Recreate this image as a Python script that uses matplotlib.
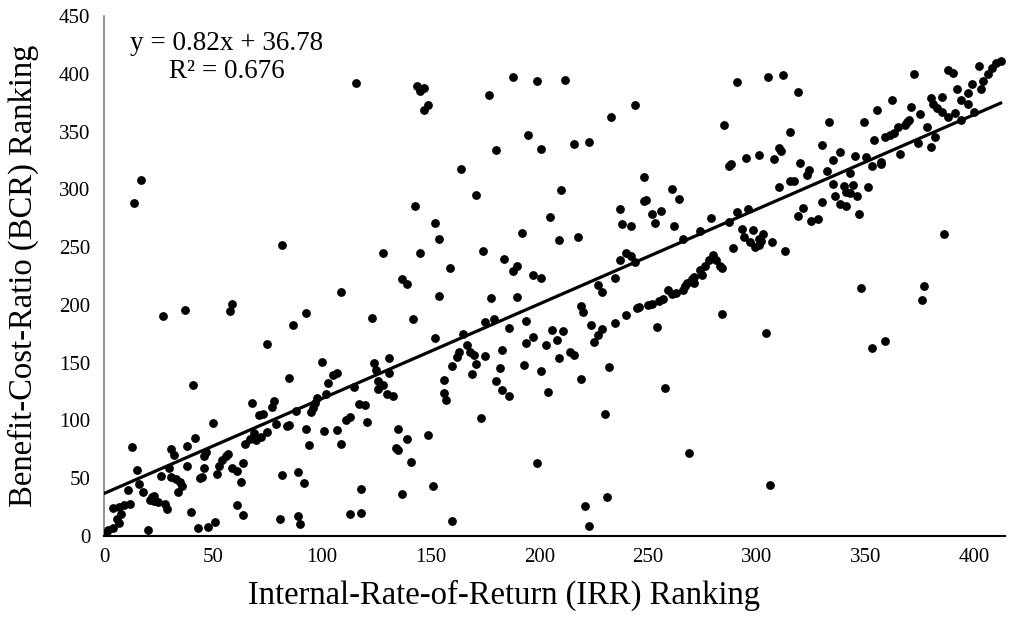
import matplotlib
matplotlib.use("Agg")
import matplotlib.pyplot as plt
import numpy as np

# IRR ranking (x) and BCR ranking (y) of each project
irr_rank = [
    100, 85, 41, 68, 78, 77, 71, 73, 98, 97, 96, 95, 88, 102, 50, 79, 84, 85, 93, 101,
    94, 69, 67, 65, 70, 72, 75, 42, 13, 31, 32, 38, 47, 46, 38, 30, 15, 26, 16, 11,
    18, 22, 23, 21, 23, 25, 28, 29, 31, 33, 35, 36, 34, 44, 45, 46, 52, 53, 54, 56,
    57, 59, 61, 63, 64, 61, 64, 40, 43, 48, 51, 20, 4, 7, 9, 12, 6, 7, 8, 2,
    4, 1, 81, 89, 90, 82, 89, 92,
    105, 107, 103, 115, 124, 125, 131, 131, 126, 128, 126, 130, 133, 117, 120, 111, 113, 121, 107, 109,
    135, 139, 134, 135, 141, 149, 118, 137, 151, 113, 118, 160, 156, 156, 157, 160, 162, 163, 168, 170,
    175, 171, 169, 173, 183, 182, 180, 183, 186, 193, 201, 204, 199,
    17, 14, 82, 27, 37, 59, 58, 87, 93, 75,
    171, 143, 152, 154, 128, 145, 174, 205, 192, 184, 190, 188, 197, 201, 159, 137, 139, 109, 154, 178,
    190, 123, 142, 175, 179, 186, 194, 197, 194, 203, 152, 165, 167,
    116, 144, 147, 145, 149, 147, 177, 188, 199, 195, 180, 201, 164, 212, 233, 244, 216, 223, 248, 261,
    285, 291, 305, 288, 287, 295, 301, 210,
    237, 249, 248, 264, 252, 256, 253, 238, 242, 262, 279, 291, 296, 287, 274, 266, 209, 218, 240, 242,
    237, 244, 235, 227, 229, 219, 220, 293, 294, 298, 303, 297, 299, 301, 301, 289, 280, 281, 283, 284,
    278, 276, 274, 275, 271, 270, 268, 271, 267, 266, 263, 259, 261, 257, 255, 252, 250, 246, 245, 240,
    235, 229, 227, 225, 224, 254, 284, 304, 206, 211, 208, 214, 216, 209,
    232, 219, 258, 230, 269, 231, 221, 223, 306,
    312, 319, 372, 388, 390, 402, 408, 410, 412, 406, 404, 403, 399, 392, 397, 394, 397, 385, 380, 381,
    383, 385, 388, 391, 394, 400, 375, 371, 362, 355, 349, 333, 315, 370, 354, 359, 361, 363, 365, 368,
    369, 378, 382, 380, 374, 366, 357, 357, 353, 350, 345, 338, 335, 330, 320, 324, 323, 332, 343, 310,
    311, 308, 315, 317, 310, 335, 340, 344, 351, 341, 343, 336, 346, 338, 341, 347, 330, 321, 319, 325,
    328, 302, 307, 313, 386, 348, 377, 376, 359, 353,
]
bcr_rank = [
    151, 137, 131, 115, 117, 112, 105, 106, 119, 115, 111, 107, 108, 123, 98, 97, 95, 96, 93, 91,
    79, 89, 84, 80, 83, 86, 90, 85, 77, 75, 70, 78, 73, 69, 61, 59, 57, 52, 45, 40,
    38, 34, 35, 31, 30, 29, 28, 23, 51, 49, 47, 43, 38, 50, 51, 59, 54, 61, 66, 69,
    71, 59, 56, 47, 63, 27, 18, 21, 7, 8, 12, 5, 24, 25, 27, 28, 15, 11, 19, 5,
    7, 3, 15, 17, 10, 53, 55, 46,
    139, 141, 132, 129, 150, 144, 154, 141, 134, 131, 127, 123, 121, 114, 113, 100, 103, 99, 92, 80,
    93, 84, 76, 74, 64, 87, 41, 36, 43, 19, 20, 13, 135, 124, 118, 147, 155, 159, 159, 157,
    156, 149, 140, 102, 161, 145, 134, 126, 121, 148, 143, 125, 63,
    308, 288, 252, 190, 196, 201, 195, 183, 193, 166,
    295, 286, 271, 257, 245, 245, 247, 276, 262, 240, 234, 229, 226, 223, 232, 222, 218, 211, 208, 206,
    207, 189, 188, 185, 188, 180, 186, 172, 167, 165, 171, 175, 165,
    392, 389, 388, 385, 373, 369, 382, 397, 394, 347, 334, 335, 318, 395, 363, 373, 339, 341, 311, 300,
    356, 393, 397, 322, 320, 327, 330, 299,
    283, 291, 290, 292, 279, 281, 271, 270, 268, 268, 275, 280, 283, 272, 264, 257, 256, 259, 245, 242,
    239, 237, 223, 217, 211, 199, 194, 266, 259, 265, 261, 254, 250, 252, 257, 249, 243, 239, 234, 232,
    239, 234, 230, 226, 224, 222, 219, 219, 216, 213, 210, 213, 209, 205, 203, 201, 200, 198, 197, 191,
    184, 179, 174, 168, 183, 181, 192, 176, 178, 177, 170, 159, 157, 154,
    146, 136, 128, 106, 72, 34, 26, 9, 44,
    399, 384, 400, 403, 401, 407, 405, 409, 411, 400, 394, 387, 391, 387, 383, 377, 374, 380, 379, 374,
    370, 367, 363, 366, 360, 367, 365, 371, 377, 369, 358, 358, 350, 360, 343, 345, 347, 349, 354, 356,
    358, 354, 345, 337, 340, 331, 322, 324, 320, 328, 329, 332, 325, 338, 323, 317, 312, 316, 314, 336,
    333, 326, 307, 307, 302, 305, 303, 304, 302, 298, 297, 294, 294, 287, 286, 279, 289, 284, 277, 273,
    274, 255, 254, 247, 261, 215, 216, 204, 169, 163,
]

# linear trendline shown on the chart
slope = 0.82
intercept = 36.78

x_ticks = [0, 50, 100, 150, 200, 250, 300, 350, 400]
y_ticks = [0, 50, 100, 150, 200, 250, 300, 350, 400, 450]

plt.rcParams['font.family'] = ['Liberation Serif', 'DejaVu Serif']

fig = plt.figure(figsize=(10.1, 6.2), dpi=100)
ax = fig.add_axes([0.103, 0.1355, 0.892, 0.8387])

ax.scatter(irr_rank, bcr_rank, s=40, color='black', zorder=3, linewidths=0)

xl = np.array([0, max(irr_rank)])
ax.plot(xl, slope * xl + intercept, color='black', lw=2.3, zorder=4)

ax.set_xlim(0, 414)
ax.set_ylim(0, 450)
ax.set_xticks(x_ticks)
ax.set_yticks(y_ticks)
ax.tick_params(length=0, labelsize=15)
ax.tick_params(axis='x', pad=9)
ax.tick_params(axis='y', pad=10)

for s in ['top', 'right']:
    ax.spines[s].set_visible(False)
ax.spines['left'].set_color('#7f7f7f')
ax.spines['bottom'].set_color('black')
ax.spines['left'].set_linewidth(1.2)
ax.spines['bottom'].set_linewidth(1.5)

ax.set_xlabel('Internal-Rate-of-Return (IRR) Ranking', fontsize=23.5, labelpad=9, x=0.444)
ax.set_ylabel('Benefit-Cost-Ratio (BCR) Ranking', fontsize=23.5, labelpad=14)

ax.text(0.1365, 0.921, 'y = 0.82x + 36.78\nR² = 0.676', transform=ax.transAxes,
        ha='center', va='center', fontsize=19.5, linespacing=1.15)

fig.savefig('out.png', dpi=100)
